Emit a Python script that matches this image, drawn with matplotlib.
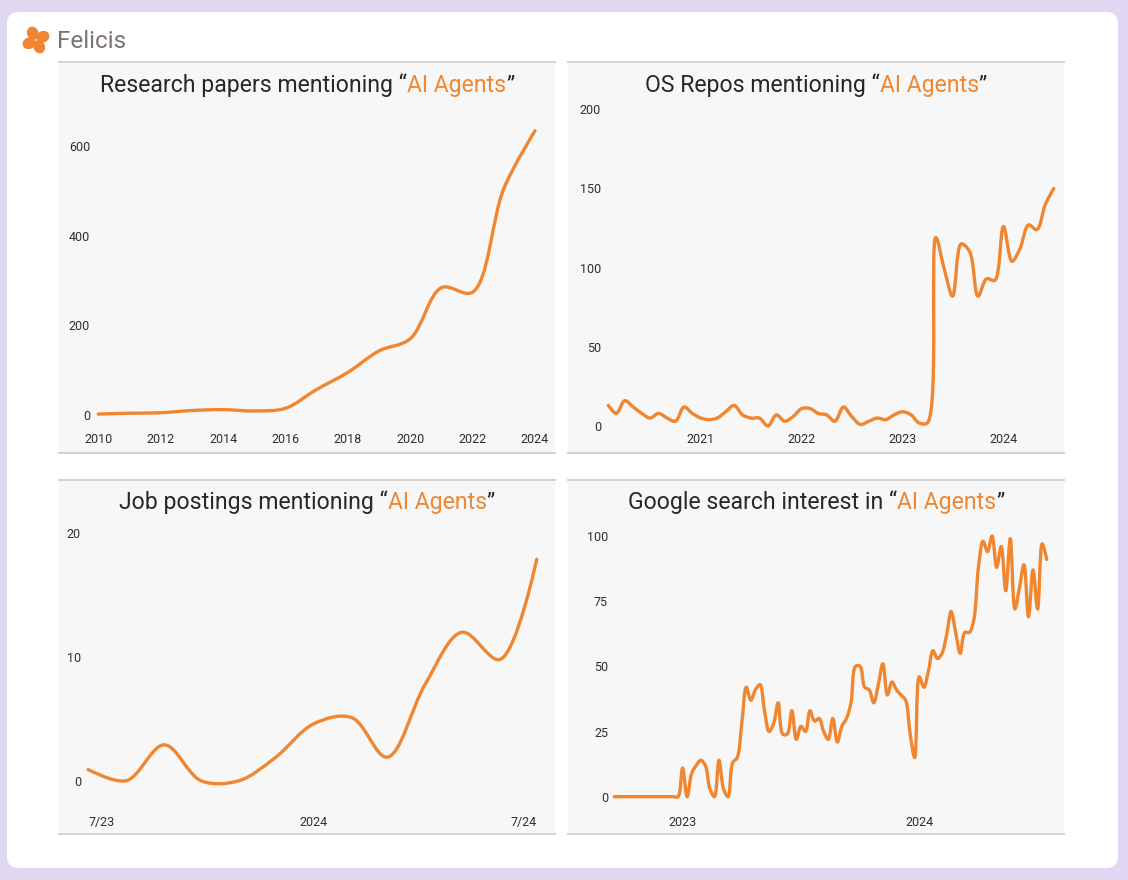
import numpy as np
import pandas as pd
import matplotlib
matplotlib.use("Agg")
import matplotlib.pyplot as plt
import matplotlib.dates as mdates
from matplotlib.path import Path
from matplotlib.patches import PathPatch, FancyBboxPatch, Rectangle, Ellipse
from matplotlib.offsetbox import TextArea, HPacker, AnnotationBbox

# ---- data ----
paper_years = list(range(2010, 2025))
paper_counts = [2, 4, 5, 10, 12, 9, 15, 57, 95, 143, 170, 284, 274, 505, 634]

repo_months = pd.date_range("2020-02-01", periods=54, freq="MS")
repo_counts = [13, 8, 16, 12, 8, 5, 8, 5, 3, 12, 8, 5, 4, 5, 9, 13, 7, 5,
               5, 0, 7, 3, 6, 11, 11, 8, 7, 3, 12, 6, 1, 3, 5, 4, 7, 9,
               7, 2, 2, 119, 99, 82, 115, 110, 82, 93, 92, 126, 104, 112, 127, 124,
               140, 150]

job_months = pd.date_range("2023-07-01", periods=13, freq="MS")
job_counts = [0.9, 0, 2.9, 0, 0, 1.9, 4.6, 5.1, 1.9, 7.8, 12, 9.8, 17.9]

search_weeks = pd.date_range("2022-09-18", periods=96, freq="7D")
search_interest = [0] * 15 + [
    11, 0, 9, 12, 14, 12, 3, 0, 14, 3, 0, 13, 15, 28, 42, 37, 41, 43,
    33, 25, 28, 36, 24, 24, 33, 22, 27, 25, 33, 29, 30, 25, 22, 30, 21, 27,
    30, 36, 50, 50, 42, 41, 36, 43, 51, 39, 44, 41, 39, 37, 24, 15, 46, 42,
    48, 56, 53, 55, 62, 71, 63, 55, 63, 63, 68, 88, 98, 94, 100, 88, 96, 79,
    99, 72, 80, 89, 69, 87, 72, 97, 91]

ORANGE = "#F0862F"
DARK = "#2b2626"
TICK = "#2e2e2e"
PANEL_BG = "#f7f7f7"
W, H = 1128, 880
FONT = "Roboto"


def smooth_path(ax, x, y, alpha=0.5):
    """Centripetal Catmull-Rom curve through the points, built in screen space."""
    pts = ax.transData.transform(np.column_stack([x, y]))
    n = len(pts)
    verts, codes = [pts[0]], [Path.MOVETO]
    for i in range(n - 1):
        p0 = pts[i - 1] if i > 0 else pts[i]
        p1, p2 = pts[i], pts[i + 1]
        p3 = pts[i + 2] if i + 2 < n else pts[i + 1]
        d01 = np.hypot(*(p1 - p0))
        d12 = np.hypot(*(p2 - p1))
        d23 = np.hypot(*(p3 - p2))
        l01a, l12a, l23a = d01 ** alpha, d12 ** alpha, d23 ** alpha
        l01_2a, l12_2a, l23_2a = d01 ** (2 * alpha), d12 ** (2 * alpha), d23 ** (2 * alpha)
        c1, c2 = p1.copy(), p2.copy()
        if l01a > 1e-9:
            a = 2 * l01_2a + 3 * l01a * l12a + l12_2a
            m = 3 * l01a * (l01a + l12a)
            c1 = (p1 * a - p0 * l12_2a + p2 * l01_2a) / m
        if l23a > 1e-9:
            b = 2 * l23_2a + 3 * l23a * l12a + l12_2a
            m = 3 * l23a * (l23a + l12a)
            c2 = (p2 * b + p1 * l23_2a - p3 * l12_2a) / m
        verts += [c1, c2, p2]
        codes += [Path.CURVE4] * 3
    verts = ax.transData.inverted().transform(np.array(verts))
    return Path(verts, codes)


def place_axes(fig, box, xmap, ymap):
    l, t, r, b = box
    ax = fig.add_axes([l / W, 1 - b / H, (r - l) / W, (b - t) / H])
    (xv0, xp0), (xv1, xp1) = xmap
    sx = (xv1 - xv0) / (xp1 - xp0)
    ax.set_xlim(xv0 + (l - xp0) * sx, xv0 + (r - xp0) * sx)
    (yv0, yp0), (yv1, yp1) = ymap
    sy = (yv1 - yv0) / (yp1 - yp0)
    ax.set_ylim(yv0 + (b - yp0) * sy, yv0 + (t - yp0) * sy)
    ax.patch.set_alpha(0)
    for s in ax.spines.values():
        s.set_visible(False)
    ax.tick_params(length=0, labelsize=9, colors=TICK)
    ax.set_zorder(2)
    return ax


def draw_line(ax, x, y):
    patch = PathPatch(smooth_path(ax, x, y), fill=False, edgecolor=ORANGE,
                      lw=2.4, capstyle="round", joinstyle="round", clip_on=False)
    ax.add_patch(patch)


def panel_frame(bg, l, t, r, b, title, ty):
    bg.add_patch(Rectangle((l, t), r - l, b - t, facecolor=PANEL_BG, edgecolor="none"))
    bg.plot([l, r], [t, t], color="#d2d2d2", lw=1.4)
    bg.plot([l, r], [b, b], color="#d2d2d2", lw=1.4)
    props = dict(fontsize=16.6, color=DARK, family=FONT)
    oprops = dict(props, color=ORANGE)
    pack = HPacker(children=[TextArea(title + " \u201c", textprops=props),
                             TextArea("AI Agents", textprops=oprops),
                             TextArea("\u201d", textprops=props)],
                   sep=0, pad=0, align="baseline")
    ab = AnnotationBbox(pack, ((l + r) / 2, ty), xycoords="data", frameon=False,
                        box_alignment=(0.5, 0.5), pad=0)
    bg.add_artist(ab)


def fix_ticks(ax, xpad_px, ypad_px):
    ax.tick_params(axis="x", pad=xpad_px * 0.72)
    ax.tick_params(axis="y", pad=ypad_px * 0.72)


def main():
    fig = plt.figure(figsize=(W / 100, H / 100), dpi=100, facecolor="#e0d7f3")
    bg = fig.add_axes([0, 0, 1, 1])
    bg.set_xlim(0, W)
    bg.set_ylim(H, 0)
    bg.axis("off")
    bg.set_zorder(0)

    bg.add_patch(FancyBboxPatch((7, 12), 1111, 856, boxstyle="round,pad=0,rounding_size=12",
                                facecolor="white", edgecolor="none"))

    # logo: four petals around a centre, small gaps between them
    for ang in (25, 115, 205, 295):
        rad = np.deg2rad(ang)
        bg.add_patch(Ellipse((36 + 7.5 * np.cos(rad), 40 - 7.5 * np.sin(rad)), 13.5, 11.5,
                             angle=-ang, facecolor="#EF8433", edgecolor="none"))
    bg.text(57, 41, "Felicis", fontsize=17.5, color="#7b7370", family=FONT,
            va="center", ha="left")

    panel_frame(bg, 59, 62, 555, 453, "Research papers mentioning", 85)
    panel_frame(bg, 568, 62, 1064, 453, "OS Repos mentioning", 85)
    panel_frame(bg, 59, 480, 555, 834, "Job postings mentioning", 502)
    panel_frame(bg, 568, 480, 1064, 834, "Google search interest in", 502)

    # research papers
    ax1 = place_axes(fig, (94, 100, 550, 428), ((2010, 98.3), (2024, 535.0)),
                     ((0, 415.0), (600, 146.0)))
    draw_line(ax1, paper_years, paper_counts)
    ax1.set_xticks(range(2010, 2025, 2))
    ax1.set_yticks([0, 200, 400, 600])
    fix_ticks(ax1, 5, 4)

    # OS repos
    d = mdates.date2num
    ax2 = place_axes(fig, (605, 100, 1060, 428),
                     ((d(repo_months[0]), 608.3), (d(repo_months[-1]), 1053.7)),
                     ((0, 426.0), (200, 109.3)))
    draw_line(ax2, d(repo_months), repo_counts)
    yrs = pd.to_datetime(["2021-01-01", "2022-01-01", "2023-01-01", "2024-01-01"])
    ax2.set_xticks(d(yrs), ["2021", "2022", "2023", "2024"])
    ax2.set_yticks([0, 50, 100, 150, 200])
    fix_ticks(ax2, 5, 4)

    # job postings
    ax3 = place_axes(fig, (85, 520, 550, 808),
                     ((d(job_months[0]), 88.3), (d(job_months[-1]), 536.7)),
                     ((0, 780.7), (20, 533.3)))
    draw_line(ax3, d(job_months), job_counts)
    jt = pd.to_datetime(["2023-07-01", "2024-01-01", "2024-07-01"])
    ax3.set_xticks(d(jt), ["7/23", "2024", "7/24"])
    labs = ax3.get_xticklabels()
    labs[0].set_ha("left")
    labs[-1].set_ha("right")
    ax3.set_yticks([0, 10, 20])
    fix_ticks(ax3, 7.5, 4)

    # google search
    ax4 = place_axes(fig, (612, 520, 1060, 808),
                     ((d(search_weeks[0]), 614.3), (d(search_weeks[-1]), 1046.7)),
                     ((0, 796.7), (100, 536.0)))
    draw_line(ax4, d(search_weeks), search_interest)
    gt = pd.to_datetime(["2023-01-01", "2024-01-01"])
    ax4.set_xticks(d(gt), ["2023", "2024"])
    ax4.set_yticks([0, 25, 50, 75, 100])
    fix_ticks(ax4, 7.5, 4)

    for ax in (ax1, ax2, ax3, ax4):
        for lab in ax.get_xticklabels() + ax.get_yticklabels():
            lab.set_fontfamily(FONT)
            lab.set_color(TICK)

    fig.savefig("out.png", dpi=100, facecolor=fig.get_facecolor())


if __name__ == "__main__":
    main()
